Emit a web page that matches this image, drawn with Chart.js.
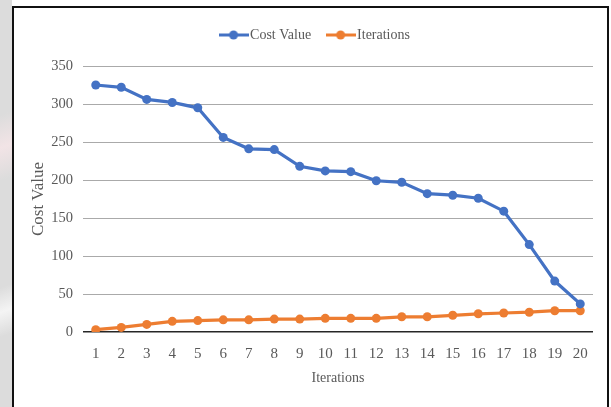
<!DOCTYPE html>
<html>
<head>
<meta charset="utf-8">
<script src="https://cdn.jsdelivr.net/npm/chart.js@4/dist/chart.umd.min.js"></script>
<style>
  html, body { margin: 0; padding: 0; background: #fff; width: 611px; height: 407px; overflow: hidden; }
  .side {
    position: absolute; left: 0; top: 0; width: 12px; height: 407px;
    background: linear-gradient(160deg, #dcdcdc 0%, #dcdcdc 28%, #f2e4e6 36%, #dcdcdc 44%, #dcdcdc 70%, #f4f4f4 76%, #dcdcdc 82%);
  }
  .frame {
    position: absolute; left: 12px; top: 6px; width: 593px; height: 410px;
    border: 2px solid #111; background: #fff;
  }
  canvas { position: absolute; left: 0; top: 0; }
</style>
</head>
<body>
<div class="side"></div>
<div class="frame"><canvas id="chart" width="593" height="399"></canvas></div>
<script>
const iterations = ['1', '2', '3', '4', '5', '6', '7', '8', '9', '10',
                    '11', '12', '13', '14', '15', '16', '17', '18', '19', '20'];
const costValues = [325, 322, 306, 302, 295, 256, 241, 240, 218, 212,
                    211, 199, 197, 182, 180, 176, 159, 115, 67, 37];
const iterationValues = [3, 6, 10, 14, 15, 16, 16, 17, 17, 18,
                         18, 18, 20, 20, 22, 24, 25, 26, 28, 28];
const yTicks = [0, 50, 100, 150, 200, 250, 300, 350];

const blue = '#4472C4';
const orange = '#ED7D31';
const textColor = '#595959';

// small line + marker picture for the legend entries
function makeSymbol(color) {
    const c = document.createElement('canvas');
    c.width = 30;
    c.height = 12;
    const g = c.getContext('2d');
    g.strokeStyle = color;
    g.lineWidth = 3;
    g.beginPath();
    g.moveTo(0, 6);
    g.lineTo(30, 6);
    g.stroke();
    g.fillStyle = color;
    g.beginPath();
    g.arc(15, 6, 4.5, 0, Math.PI * 2);
    g.fill();
    return c;
}

const ctx = document.getElementById('chart').getContext('2d');

const chart = new Chart(ctx, {
    type: 'line',
    data: {
        labels: iterations,
        datasets: [
            {
                label: 'Cost Value',
                data: costValues,
                borderColor: blue,
                backgroundColor: blue,
                borderWidth: 3.25,
                pointRadius: 4.5,
                pointBorderWidth: 0,
                pointBackgroundColor: blue,
                tension: 0
            },
            {
                label: 'Iterations',
                data: iterationValues,
                borderColor: orange,
                backgroundColor: orange,
                borderWidth: 3.25,
                pointRadius: 4.5,
                pointBorderWidth: 0,
                pointBackgroundColor: orange,
                tension: 0
            }
        ]
    },
    options: {
        responsive: false,
        devicePixelRatio: 1,
        animation: false,
        layout: {
            padding: { left: 13, right: 0, top: 0, bottom: 0 }
        },
        scales: {
            x: {
                offset: true,
                grid: { display: false },
                border: { display: false },
                ticks: {
                    color: textColor,
                    padding: 5,
                    maxRotation: 0,
                    font: { family: 'Liberation Serif', size: 15 }
                },
                title: {
                    display: true,
                    text: 'Iterations',
                    color: textColor,
                    padding: { top: 0, bottom: 20 },
                    font: { family: 'Liberation Serif', size: 14 }
                },
                afterFit: function (scale) { scale.height = 75; }
            },
            y: {
                min: 0,
                max: 350,
                afterBuildTicks: function (scale) {
                    scale.ticks = yTicks.map(v => ({ value: v }));
                },
                border: { display: false },
                grid: {
                    drawTicks: false,
                    lineWidth: ctx => ctx.tick && ctx.tick.value === 0 ? 1.5 : 1,
                    color: ctx => ctx.tick && ctx.tick.value === 0 ? '#262626' : '#aaaaaa'
                },
                ticks: {
                    color: textColor,
                    padding: 10,
                    font: { family: 'Liberation Serif', size: 14.5 }
                },
                title: {
                    display: true,
                    text: 'Cost Value',
                    color: textColor,
                    padding: { top: 1, bottom: 0 },
                    font: { family: 'Liberation Serif', size: 17 }
                },
                afterFit: function (scale) { scale.width = 56; }
            },
            y1: {
                position: 'right',
                display: true,
                grid: { display: false },
                border: { display: false },
                ticks: { display: false },
                afterFit: function (scale) { scale.width = 14; }
            }
        },
        plugins: {
            title: {
                // spacer between legend and plot
                display: true,
                text: '',
                weight: 500,
                padding: 0,
                font: { size: 14, lineHeight: 1 }
            },
            legend: {
                display: true,
                position: 'top',
                labels: {
                    usePointStyle: true,
                    pointStyleWidth: 19,
                    padding: 20,
                    color: textColor,
                    font: { family: 'Liberation Serif', size: 14 },
                    generateLabels: function (chart) {
                        const items = Chart.defaults.plugins.legend.labels.generateLabels(chart);
                        items.forEach(item => {
                            const ds = chart.data.datasets[item.datasetIndex];
                            item.pointStyle = makeSymbol(ds.borderColor);
                        });
                        return items;
                    }
                }
            },
            tooltip: { enabled: false }
        }
    }
});
</script>
</body>
</html>
